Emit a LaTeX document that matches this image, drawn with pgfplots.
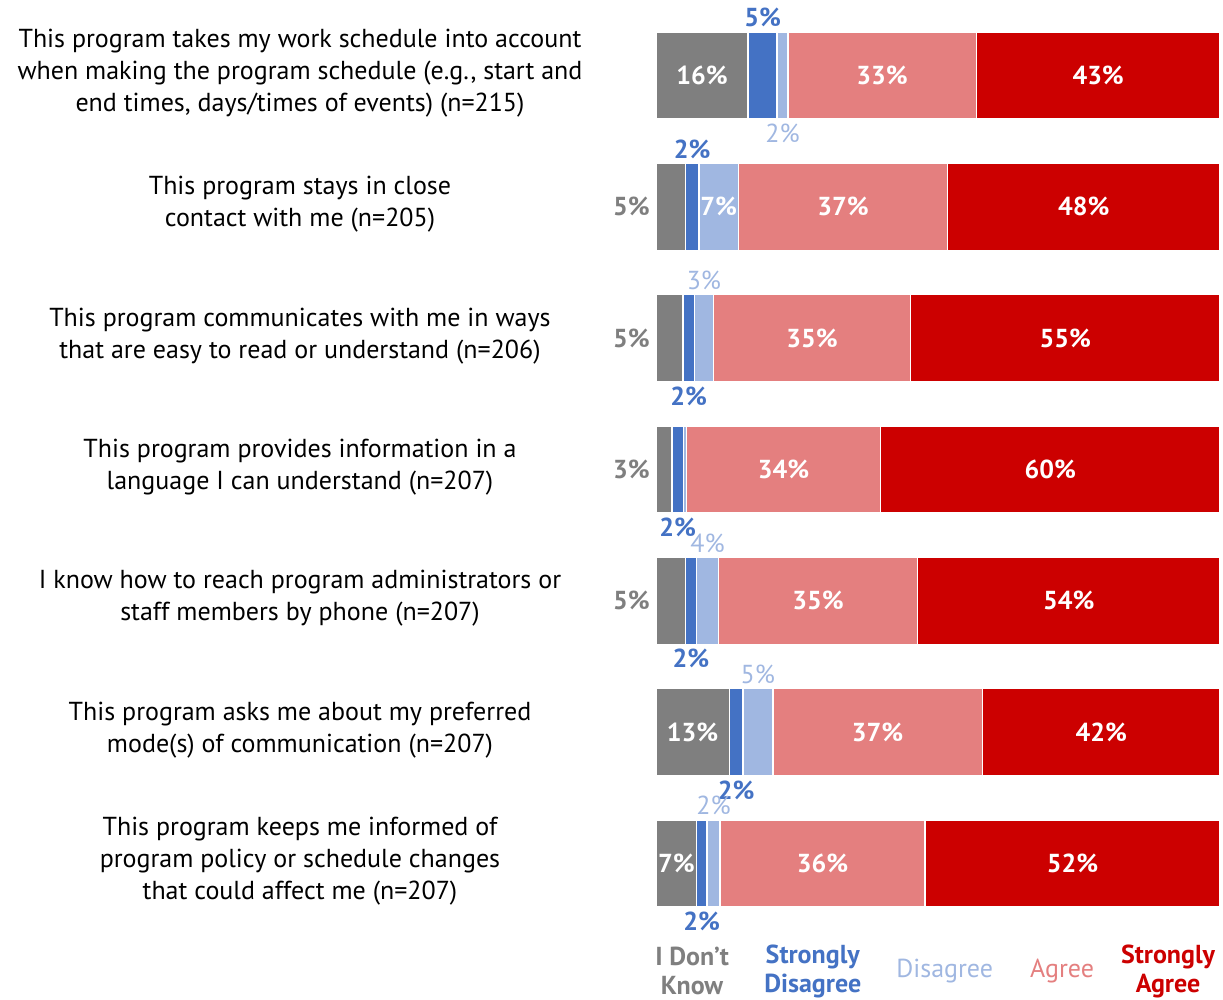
\documentclass[border=0pt]{standalone}
\usepackage{pgfplots}
\usepackage{pgfplotstable}
\pgfplotsset{compat=1.18}
\usepackage{fontspec}
\setmainfont{PT Sans}
\definecolor{cDK}{HTML}{7F7F7F}
\definecolor{cSD}{HTML}{4472C4}
\definecolor{cD}{HTML}{A0B7E1}
\definecolor{cA}{HTML}{E47F7F}
\definecolor{cSA}{HTML}{CC0000}
\pgfplotsset{
  lbl/.style={draw=none, mark=none, forget plot},
}
% label position codes: dkl 1=inside 2=left of bar; sdl 1=above 2=below;
% dl 0=none 1=above 2=below 3=inside
\pgfplotstableread{
y DK SD D A SA dkl sdl dl
7 16.3 5.2 1.9 33.4 43.2 1 1 2
6 5.2 2.4 7.0 37.1 48.3 2 1 3
5 4.8 2.0 3.4 34.9 54.9 2 2 1
4 2.8 2.1 0.5 34.4 60.2 2 2 0
3 5.2 2.0 3.9 35.3 53.6 2 2 1
2 13.0 2.4 5.3 37.2 42.1 1 2 1
1 7.2 1.8 2.4 36.3 52.3 1 2 1
}\data
\newcommand{\pctfont}{\fontsize{13}{15}\selectfont}
\begin{document}
\begin{tikzpicture}
\begin{axis}[
  at={(0,0)}, anchor=south west,
  x=2.82pt, y=65.67pt,
  xmin=0, xmax=100, ymin=0.5, ymax=7.5,
  xbar stacked, bar width=43.5pt,
  axis line style={draw=none}, tick style={draw=none},
  clip=false,
  ytick={1,2,3,4,5,6,7},
  yticklabels={
    {This program keeps me informed of\\program policy or schedule changes\\that could affect me (n=207)},
    {This program asks me about my preferred\\mode(s) of communication (n=207)},
    {I know how to reach program administrators or\\staff members by phone (n=207)},
    {This program provides information in a\\language I can understand (n=207)},
    {This program communicates with me in ways\\that are easy to read or understand (n=206)},
    {This program stays in close\\contact with me (n=205)},
    {This program takes my work schedule into account\\when making the program schedule (e.g., start and\\end times, days/times of events) (n=215)}
  },
  yticklabel style={anchor=center, align=center, xshift=-178pt, yshift=1.2pt,
    font=\fontsize{13}{16}\selectfont, text=black},
  xtick={6.4,27.8,51.2,72.0,90.8},
  xticklabels={
    {\color{cDK}\bfseries I Don’t\\\color{cDK}\bfseries Know},
    {\color{cSD}\bfseries Strongly\\\color{cSD}\bfseries Disagree},
    {\color{cD}Disagree},
    {\color{cA}Agree},
    {\color{cSA}\bfseries Strongly\\\color{cSA}\bfseries Agree}
  },
  xticklabel style={anchor=center, align=center, yshift=-21pt,
    font=\fontsize{13}{14.5}\selectfont},
]
\addplot[fill=cDK, draw=white, line width=0.8pt] table[x=DK,y=y]{\data};
\addplot[fill=cSD, draw=white, line width=0.8pt] table[x=SD,y=y]{\data};
\addplot[fill=cD, draw=white, line width=0.8pt] table[x=D,y=y]{\data};
\addplot[fill=cA, draw=white, line width=0.8pt] table[x=A,y=y]{\data};
\addplot[fill=cSA, draw=white, line width=0.8pt] table[x=SA,y=y]{\data};
\end{axis}
\begin{axis}[
  at={(0,0)}, anchor=south west,
  x=2.82pt, y=65.67pt,
  xmin=0, xmax=100, ymin=0.5, ymax=7.5,
  hide axis, clip=false,
  /pgf/number format/assume math mode=true,
  nodes near coords={\pgfmathprintnumber[fixed,precision=0]{\pgfplotspointmeta}\%},
  every node near coord/.append style={anchor=center, inner sep=1pt, font=\pctfont},
]
% I don't know
\addplot[lbl, point meta=\thisrow{DK}, restrict expr to domain={\thisrow{dkl}}{1:1},
  nodes near coords style={text=white, font=\pctfont\bfseries}]
  table[x expr=\thisrow{DK}/2, y=y]{\data};
\addplot[lbl, point meta=\thisrow{DK}, restrict expr to domain={\thisrow{dkl}}{2:2},
  nodes near coords style={text=cDK, font=\pctfont\bfseries, anchor=east, xshift=-2pt}]
  table[x expr=0, y=y]{\data};
% strongly disagree
\addplot[lbl, point meta=\thisrow{SD}, restrict expr to domain={\thisrow{sdl}}{1:1},
  nodes near coords style={text=cSD, font=\pctfont\bfseries}]
  table[x expr=\thisrow{DK}+\thisrow{SD}/2, y expr=\thisrow{y}+0.44]{\data};
\addplot[lbl, point meta=\thisrow{SD}, restrict expr to domain={\thisrow{sdl}}{2:2},
  nodes near coords style={text=cSD, font=\pctfont\bfseries}]
  table[x expr=\thisrow{DK}+\thisrow{SD}/2, y expr=\thisrow{y}-0.44]{\data};
% disagree
\addplot[lbl, point meta=\thisrow{D}, restrict expr to domain={\thisrow{dl}}{2:2},
  nodes near coords style={text=cD}]
  table[x expr=\thisrow{DK}+\thisrow{SD}+\thisrow{D}/2, y expr=\thisrow{y}-0.44]{\data};
\addplot[lbl, point meta=\thisrow{D}, restrict expr to domain={\thisrow{dl}}{1:1},
  nodes near coords style={text=cD}]
  table[x expr=\thisrow{DK}+\thisrow{SD}+\thisrow{D}/2, y expr=\thisrow{y}+0.44]{\data};
\addplot[lbl, point meta=\thisrow{D}, restrict expr to domain={\thisrow{dl}}{3:3},
  nodes near coords style={text=white, font=\pctfont\bfseries}]
  table[x expr=\thisrow{DK}+\thisrow{SD}+\thisrow{D}/2, y=y]{\data};
% agree
\addplot[lbl, point meta=\thisrow{A},
  nodes near coords style={text=white, font=\pctfont\bfseries}]
  table[x expr=\thisrow{DK}+\thisrow{SD}+\thisrow{D}+\thisrow{A}/2, y=y]{\data};
% strongly agree
\addplot[lbl, point meta=\thisrow{SA},
  nodes near coords style={text=white, font=\pctfont\bfseries}]
  table[x expr=\thisrow{DK}+\thisrow{SD}+\thisrow{D}+\thisrow{A}+\thisrow{SA}/2, y=y]{\data};
\end{axis}
\pgfresetboundingbox
\path[use as bounding box] (-328pt,-35pt) rectangle (283.5pt,464.6pt);
\end{tikzpicture}
\end{document}
